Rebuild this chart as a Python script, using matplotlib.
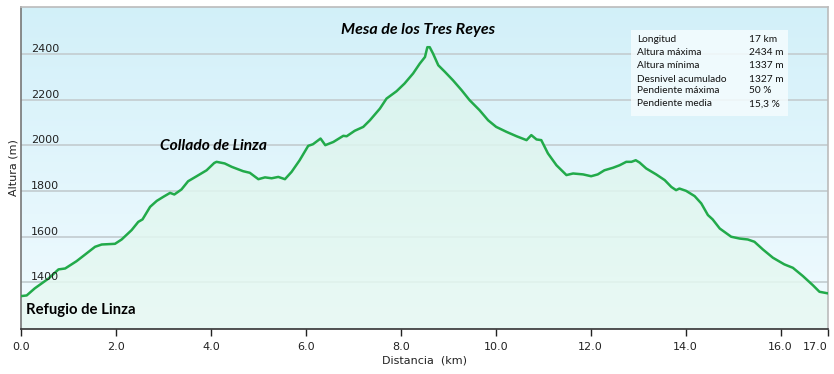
import numpy as np
import matplotlib
matplotlib.use("Agg")
import matplotlib.pyplot as plt
from matplotlib.patches import Rectangle

# ============================================================
# DATA
# ============================================================

dist_km = [
    0.0, 0.12, 0.29, 0.58, 0.79, 0.93, 1.17, 1.35, 1.56, 1.70,
    1.98, 2.12, 2.33, 2.47, 2.56, 2.72, 2.86, 3.00, 3.14, 3.23,
    3.38, 3.52, 3.70, 3.91, 4.07, 4.12, 4.29, 4.44, 4.68, 4.82,
    5.00, 5.14, 5.28, 5.42, 5.56, 5.70, 5.87, 6.05, 6.15, 6.31,
    6.41, 6.58, 6.79, 6.86, 7.03, 7.21, 7.35, 7.56, 7.70, 7.91,
    8.08, 8.26, 8.40, 8.51, 8.56, 8.61, 8.68, 8.79, 8.93, 9.10,
    9.28, 9.45, 9.66, 9.84, 10.01, 10.23, 10.44, 10.65, 10.75, 10.86,
    10.96, 11.10, 11.28, 11.49, 11.63, 11.84, 12.01, 12.15, 12.29, 12.47,
    12.61, 12.75, 12.86, 12.95, 13.03, 13.17, 13.38, 13.56, 13.70, 13.80,
    13.87, 14.01, 14.19, 14.33, 14.47, 14.57, 14.72, 14.96, 15.14, 15.31,
    15.45, 15.63, 15.84, 16.08, 16.26, 16.47, 16.68, 16.82, 17.0,
]

elev_m = [
    1340, 1343, 1374, 1417, 1457, 1461, 1493, 1522, 1556, 1566,
    1569, 1588, 1629, 1665, 1676, 1731, 1757, 1775, 1792, 1785,
    1807, 1843, 1865, 1891, 1923, 1928, 1921, 1906, 1887, 1880,
    1852, 1860, 1856, 1862, 1852, 1884, 1935, 1998, 2005, 2030,
    2001, 2015, 2042, 2040, 2064, 2081, 2110, 2161, 2205, 2237,
    2271, 2315, 2358, 2387, 2430, 2430, 2402, 2351, 2322, 2285,
    2242, 2198, 2154, 2110, 2081, 2059, 2040, 2023, 2045, 2026,
    2023, 1965, 1913, 1870, 1877, 1873, 1865, 1873, 1891, 1902,
    1913, 1928, 1928, 1935, 1925, 1899, 1873, 1848, 1818, 1804,
    1811, 1801, 1778, 1746, 1695, 1676, 1636, 1600, 1592, 1588,
    1578, 1544, 1508, 1479, 1464, 1428, 1388, 1359, 1352,
]

x_ticks = [0, 2, 4, 6, 8, 10, 12, 14, 16, 17]
x_tick_labels = ["0.0", "2.0", "4.0", "6.0", "8.0", "10.0", "12.0",
                 "14.0", "16.0", "17.0"]
y_ticks = [1400, 1600, 1800, 2000, 2200, 2400]

places = ["Mesa de los Tres Reyes", "Collado de Linza", "Refugio de Linza"]
place_x = [8.36, 4.05, 0.1]
place_y = [2504, 1996, 1279]

info_names = ["Longitud", "Altura máxima", "Altura mínima",
              "Desnivel acumulado", "Pendiente máxima", "Pendiente media"]
info_values = ["17 km", "2434 m", "1337 m", "1327 m", "50 %", "15,3 %"]

# ============================================================
# PLOT
# ============================================================

X_MIN, X_MAX = 0, 17
Y_MIN, Y_MAX = 1196, 2606

fig = plt.figure(figsize=(8.34, 3.74), dpi=100)
fig.patch.set_facecolor("white")
ax = fig.add_axes([21 / 834, 1 - 329 / 374, 807 / 834, 322 / 374])

# sky gradient background
sky = np.linspace(0, 1, 256).reshape(-1, 1)
top_c = np.array([0.824, 0.941, 0.976])
bot_c = np.array([0.945, 0.984, 1.0])
sky_img = top_c + (bot_c - top_c) * sky[:, :, None]
ax.imshow(sky_img, extent=[X_MIN, X_MAX, Y_MIN, Y_MAX], aspect="auto",
          origin="upper", zorder=0)

# gridlines
for yv in y_ticks:
    ax.axhline(yv, color="#c5cfd3", lw=1.3, zorder=1)

# green fill under profile (gradient clipped to polygon)
poly = ax.fill_between(dist_km, elev_m, Y_MIN, color="none", lw=0, zorder=2)
g_top = np.array([0.855, 0.957, 0.925])
g_bot = np.array([0.91, 0.976, 0.953])
ground = g_top + (g_bot - g_top) * sky[:, :, None]
gimg = ax.imshow(ground, extent=[X_MIN, X_MAX, Y_MIN, max(elev_m)],
                 aspect="auto", origin="upper", zorder=2, alpha=0.85)
gimg.set_clip_path(poly.get_paths()[0], transform=ax.transData)

ax.plot(dist_km, elev_m, color="#22aa4a", lw=1.8, zorder=3,
        solid_joinstyle="round")

ax.set_xlim(X_MIN, X_MAX)
ax.set_ylim(Y_MIN, Y_MAX)

# ticks
ax.set_xticks(x_ticks)
ax.set_xticklabels(x_tick_labels)
ax.tick_params(axis="x", direction="out", length=5, width=1, pad=4,
               labelsize=8, colors="#222222")
ax.get_xticklabels()[-1].set_horizontalalignment("right")
ax.set_yticks(y_ticks)
ax.tick_params(axis="y", length=0, pad=-7, labelsize=8, colors="#222222")
for lab in ax.get_yticklabels():
    lab.set_horizontalalignment("left")
    lab.set_verticalalignment("bottom")
ax.yaxis.set_zorder(6)

ax.set_xlabel("Distancia  (km)", fontsize=8, color="#222222", labelpad=3)
ax.set_ylabel("Altura (m)", fontsize=8, color="#222222", labelpad=2)

for side in ["top", "right"]:
    ax.spines[side].set_color("#bbbbbb")
    ax.spines[side].set_linewidth(1.2)
ax.spines["left"].set_color("#777777")
ax.spines["left"].set_linewidth(1.2)
ax.spines["bottom"].set_color("#333333")
ax.spines["bottom"].set_linewidth(1.2)

# place names
ax.text(place_x[0], place_y[0], places[0], fontsize=11.5, family="Lato",
        weight="bold", style="italic", ha="center", va="center", zorder=5)
ax.text(place_x[1], place_y[1], places[1], fontsize=11.2, family="Lato",
        weight="bold", style="italic", ha="center", va="center", zorder=5)
ax.text(place_x[2], place_y[2], places[2], fontsize=10.7, family="Lato",
        weight="bold", ha="left", va="center", zorder=5)

# info box
box = Rectangle((0.756, 0.661), 0.194, 0.268, transform=ax.transAxes,
                facecolor="#f4fcfe", edgecolor="none", alpha=0.85, zorder=4)
ax.add_patch(box)
row_px = [39.3, 52.3, 65.3, 79.0, 90.7, 103.7]
for name, val, py in zip(info_names, info_values, row_px):
    yy = (329 - py) / 322
    ax.text(0.763, yy, name, transform=ax.transAxes, fontsize=7.3,
            family="Lato", va="center", ha="left", color="#111111", zorder=5)
    ax.text(0.9025, yy, val, transform=ax.transAxes, fontsize=7.3,
            family="Lato", va="center", ha="left", color="#111111", zorder=5)

fig.savefig("out.png", dpi=100)
